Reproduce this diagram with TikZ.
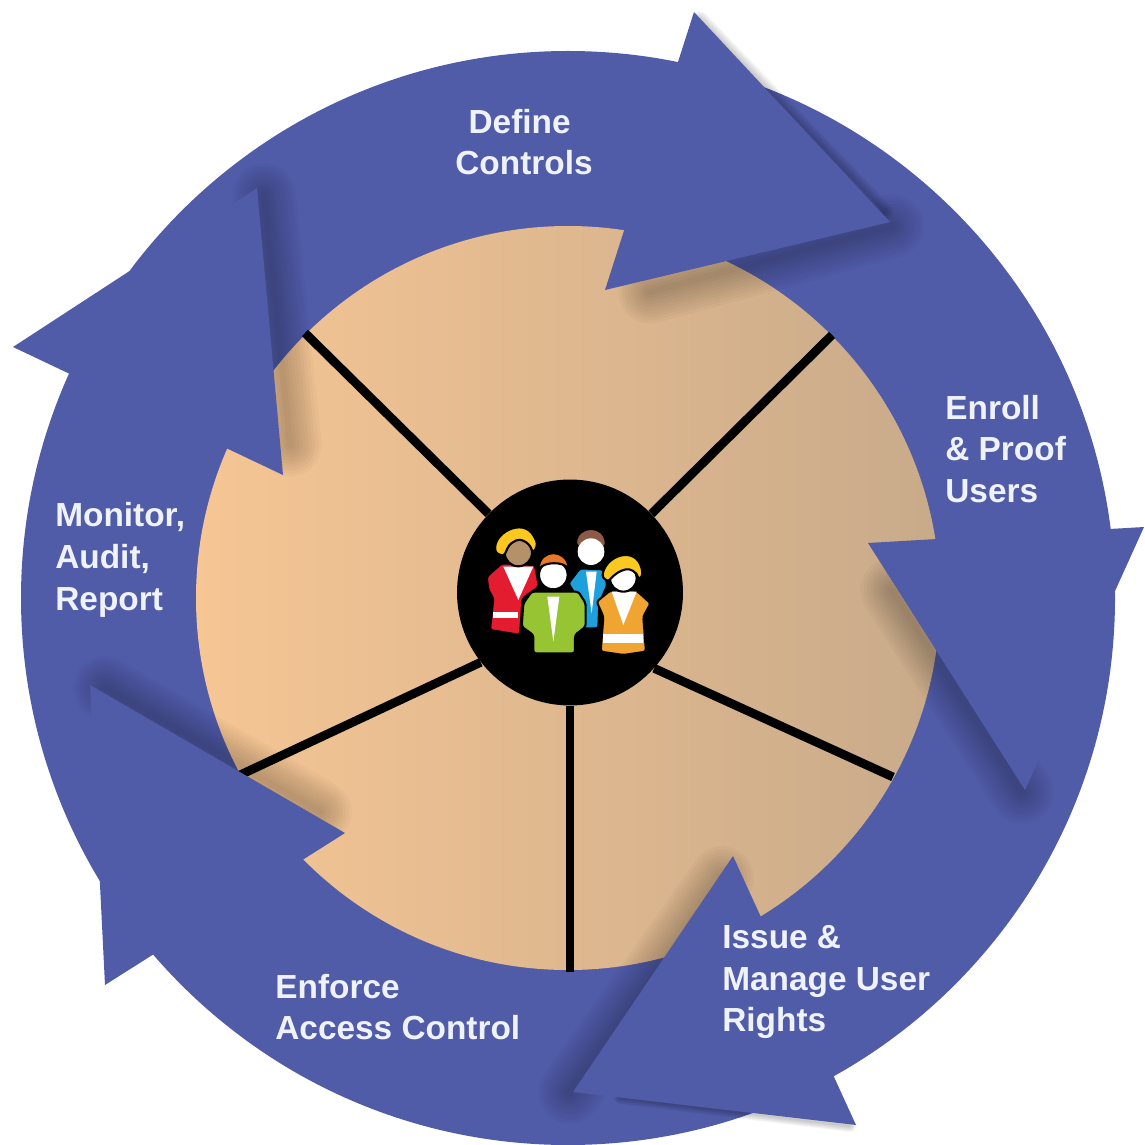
\documentclass[tikz,border=0pt]{standalone}
\usepackage{xcolor}
\usepackage{fontspec}
\setmainfont{Liberation Sans}

\definecolor{ringblue}{RGB}{80,92,168}
\definecolor{tanleft}{RGB}{246,198,148}
\definecolor{tanright}{RGB}{200,170,138}
\definecolor{labelwhite}{RGB}{240,242,250}
\definecolor{vestred}{RGB}{228,28,48}
\definecolor{suitgreen}{RGB}{150,196,50}
\definecolor{shirtblue}{RGB}{30,160,220}
\definecolor{vestorange}{RGB}{240,165,50}
\definecolor{hatyellow}{RGB}{250,200,30}
\definecolor{hairorange}{RGB}{232,120,40}
\definecolor{hairbrown}{RGB}{140,90,70}
\definecolor{skintan}{RGB}{180,145,105}

\tikzset{
    arrowpart/.style={fill=ringblue},
    steplabel/.style={text=labelwhite, font=\fontsize{19}{23.8}\selectfont\bfseries, inner sep=0pt, anchor=west, align=left},
    spoke/.style={line width=5pt, black},
    figure/.style={draw=black, line width=1.2pt, line join=round, rounded corners=1.5pt},
    softline/.style={black, opacity=0.022, line cap=round}
}

% stacked wide strokes give a soft shadow along a line
\newcommand{\softshadow}[3]{
    \foreach \n in {1,...,10} {
            \draw[softline, line width=\n*#1] #2 -- #3;
        }
}

\begin{document}
\begin{tikzpicture}[x=0.02cm,y=-0.02cm]
    \useasboundingbox (0,0) rectangle (1144,1145);

    % Ring and inner disc
    \fill[ringblue] (568,598) circle (547);
    \shade[left color=tanleft, right color=tanright] (568,598) circle (372);

    % Spokes out of the hub
    \node[circle, fill=black, minimum size=4.52cm, inner sep=0pt] (hub) at (570,592.5) {};
    \coordinate (sa) at (305,333);
    \coordinate (sb) at (832,335);
    \coordinate (sc) at (893,777);
    \coordinate (sd) at (570,972);
    \coordinate (se) at (240,775);
    \foreach \a/\s in {136/sa, 44/sb, -42/sc, -90/sd, 218/se} {
            \draw[spoke] (hub.\a) -- (\s);
        }

    % Shadows under the arrow heads
    \softshadow{3.6pt}{(892,226)}{(650,292)}
    \softshadow{1pt}{(700,20)}{(885,212)}
    \softshadow{3.6pt}{(264,195)}{(290,445)}
    \softshadow{3.6pt}{(892,590)}{(1022,792)}
    \softshadow{3.6pt}{(722,878)}{(570,1092)}
    \softshadow{0.7pt}{(620,1098)}{(850,1126)}
    \softshadow{3.6pt}{(105,688)}{(320,812)}

    % Arrow heads
    \fill[arrowpart] (694,12) -- (890,222) -- (605,290) -- cycle;
    \fill[arrowpart] (1144,527) -- (1025,790) -- (868,543) -- cycle;
    \fill[arrowpart] (733,856) -- (856,1125) -- (573,1092) -- cycle;
    \fill[arrowpart] (90,685) -- (345,833) -- (105,985) -- cycle;
    \fill[arrowpart] (257,188) -- (283,475) -- (13,347) -- cycle;

    % Labels
    \node[steplabel, anchor=center, align=center] (define) at (524,142) {Define\hspace*{5pt}\\Controls};
    \node[steplabel] (enroll) at (945,449) {Enroll\\\& Proof\\Users};
    \node[steplabel] (issue) at (722,982) {Issue \&\\Manage User\\Rights};
    \node[steplabel] (enforce) at (275,1007) {Enforce\\Access Control};
    \node[steplabel] (monitor) at (55,560) {Monitor,\\Audit,\\Report};

    % People in the hub
    \begin{scope}[shift={(440,470)},x=0.00667cm,y=-0.00667cm]
        % Blue shirt
        \draw[figure, fill=shirtblue] (385,340) -- (420,295) -- (490,298) -- (502,345) -- (478,400) -- (475,475) -- (420,475) -- (410,380) -- cycle;
        \fill[white] (438,305) -- (470,305) -- (455,430) -- cycle;
        \draw[figure, fill=hairbrown] (408,225) .. controls (410,165) and (495,160) .. (498,228) -- (470,240) -- (430,240) -- cycle;
        \fill[white] (453,245) circle (40);
        \fill[white] (416,230) .. controls (430,205) and (475,205) .. (490,230) -- (490,260) -- (416,260) -- cycle;

        % Red vest
        \draw[figure, fill=vestred] (185,280) -- (140,320) -- (145,360) -- (160,385) -- (150,480) -- (240,495) -- (248,385) -- (297,350) -- (285,285) -- cycle;
        \fill[white] (190,290) -- (280,290) -- (235,390) -- cycle;
        \fill[white] (158,425) rectangle (233,445);
        \draw[figure, fill=skintan] (235,248) circle (41);
        \draw[figure, fill=hatyellow] (168,250) .. controls (155,190) and (250,140) .. (285,205) .. controls (295,225) and (285,240) .. (278,248) .. controls (268,215) and (240,205) .. (222,215) .. controls (205,225) and (198,245) .. (192,258) -- cycle;

        % Green suit
        \draw[figure, fill=suitgreen] (275,365) -- (250,400) -- (245,470) -- (280,495) -- (280,550) -- (405,550) -- (405,495) -- (437,470) -- (437,400) -- (415,365) -- cycle;
        \fill[white] (322,380) -- (358,380) -- (340,515) -- cycle;
        \draw[figure, fill=white] (340,315) circle (43);
        \draw[figure, fill=hairorange] (296,300) .. controls (300,235) and (380,235) .. (387,300) .. controls (370,275) and (315,275) .. cycle;

        % Orange vest
        \draw[figure, fill=vestorange] (510,362) -- (470,395) -- (490,440) -- (482,545) -- (550,555) -- (618,545) -- (610,440) -- (632,400) -- (590,362) -- cycle;
        \fill[white] (515,365) -- (590,365) -- (550,465) -- cycle;
        \fill[white] (490,492) rectangle (610,520);
        \draw[figure, fill=white] (550,325) circle (40);
        \draw[figure, fill=hatyellow] (487,322) .. controls (495,255) and (590,225) .. (607,305) .. controls (607,318) and (600,325) .. (597,330) .. controls (590,305) and (570,295) .. (550,300) .. controls (530,308) and (515,322) .. (505,335) -- cycle;
    \end{scope}
\end{tikzpicture}
\end{document}
